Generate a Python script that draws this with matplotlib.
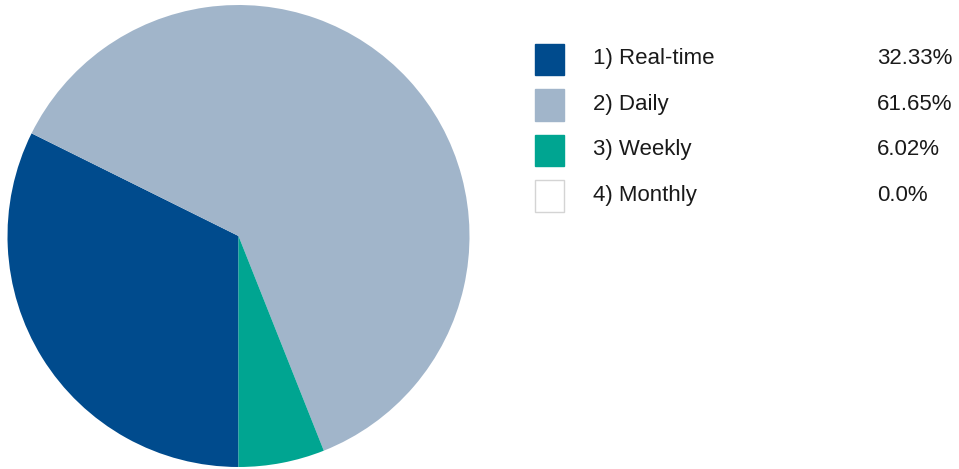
import matplotlib.pyplot as plt
from matplotlib.patches import Rectangle

labels = ["1) Real-time", "2) Daily", "3) Weekly", "4) Monthly"]
shares = [32.33, 61.65, 6.02, 0.0]
colors = ["#004b8d", "#a1b5ca", "#00a591", "#ffffff"]

W, H = 959, 469
fig = plt.figure(figsize=(W / 100, H / 100), dpi=100)

# pie: circle centre ~(238.5, 236), radius ~231 px
ax = fig.add_axes([7.5 / W, (H - 467) / H, 462 / W, 462 / H])
ax.pie(shares, colors=colors, startangle=-90, counterclock=False,
       wedgeprops=dict(linewidth=0))
ax.set_xlim(-1, 1)
ax.set_ylim(-1, 1)
ax.set_aspect("equal")
ax.axis("off")

# legend drawn by hand
row_step = 45.5
for i, (lab, val, col) in enumerate(zip(labels, shares, colors)):
    top = 44 + i * row_step
    edge = "#d4d4d4" if col == "#ffffff" else col
    fig.patches.append(Rectangle((535 / W, (H - top - 31.5) / H), 29 / W, 31.5 / H,
                                 transform=fig.transFigure, facecolor=col,
                                 edgecolor=edge, linewidth=1))
    base = (H - (64.3 + i * row_step)) / H
    fig.text(593 / W, base, lab, fontsize=16, family="Liberation Sans",
             color="#1a1a1a", va="baseline")
    fig.text(877 / W, base, f"{val}%", fontsize=16, family="Liberation Sans",
             color="#1a1a1a", va="baseline")

fig.savefig("out.png", dpi=100, facecolor="white")
